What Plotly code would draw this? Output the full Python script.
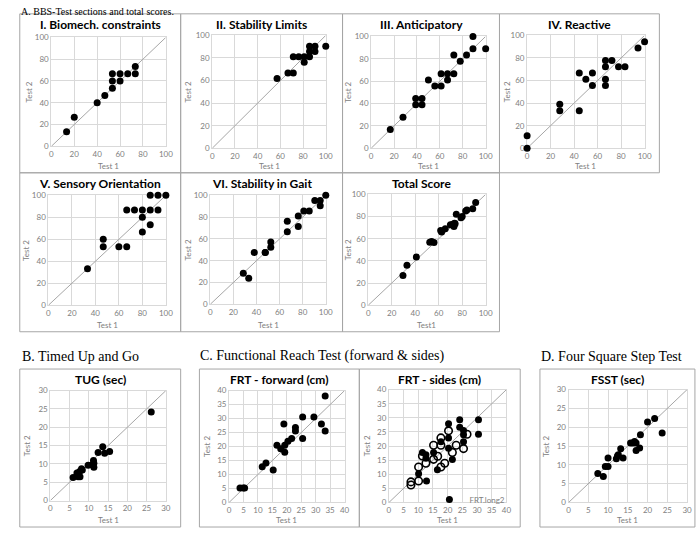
import plotly.graph_objects as go

W, H = 696, 533

# ---------------- data ----------------
bio_t1 = [13.3, 20, 40, 46.7, 53.3, 53.3, 53.3, 60, 60, 66.7, 73.3, 73.3]
bio_t2 = [13.3, 26.7, 40, 46.7, 53.3, 60, 66.7, 66.7, 60, 66.7, 73.3, 66.7]

stab_t1 = [57.1, 66.7, 71.4, 71.4, 76.2, 81, 81, 85.7, 85.7, 85.7, 90.5, 90.5, 100]
stab_t2 = [61.9, 66.7, 66.7, 81, 81, 81, 76.2, 81, 85.7, 90.5, 90.5, 85.7, 90.5]

ant_t1 = [16.7, 27.8, 38.9, 38.9, 44.4, 44.4, 50, 55.6, 61.1, 61.1, 66.7, 66.7, 72.2, 72.2, 77.8, 83.3, 88.9, 88.9, 100]
ant_t2 = [16.7, 27.8, 38.9, 44.4, 44.4, 38.9, 61.1, 55.6, 55.6, 66.7, 66.7, 61.1, 66.7, 83.3, 77.8, 83.3, 88.9, 100, 88.9]

rea_t1 = [0, 0, 27.8, 27.8, 44.4, 44.4, 50, 55.6, 55.6, 66.7, 66.7, 66.7, 66.7, 72.2, 77.8, 83.3, 94.4, 100]
rea_t2 = [0, 11.1, 38.9, 33.3, 33.3, 66.7, 61.1, 66.7, 55.6, 77.8, 72.2, 61.1, 55.6, 77.8, 72.2, 72.2, 88.9, 94.4]

sen_t1 = [33.3, 46.7, 46.7, 60, 66.7, 66.7, 73.3, 80, 80, 80, 86.7, 86.7, 86.7, 93.3, 93.3, 100]
sen_t2 = [33.3, 60, 53.3, 53.3, 53.3, 86.7, 86.7, 86.7, 80, 66.7, 86.7, 100, 73.3, 100, 86.7, 100]

gait_t1 = [28.6, 33.3, 38.1, 47.6, 47.6, 52.4, 52.4, 66.7, 66.7, 76.2, 76.2, 81, 85.7, 90.5, 95.2, 95.2, 100]
gait_t2 = [28.6, 23.8, 47.6, 47.6, 47.6, 52.4, 57.1, 66.7, 76.2, 71.4, 81, 85.7, 85.7, 95.2, 95.2, 90.5, 100]

tot_t1 = [29.6, 33, 41, 52.4, 54, 56, 61.7, 62.5, 65.6, 70, 72, 73, 73.5, 74, 75, 79, 80, 83, 84, 89, 91.5]
tot_t2 = [26.9, 36, 43.5, 56.8, 57.5, 56.5, 67.5, 66, 69, 72.5, 73, 71, 74, 73.5, 82, 79, 80, 85, 86, 87, 92.6]

tug_t1 = [5.9, 6.9, 7.2, 7.7, 7.6, 8.1, 8.3, 9.8, 10.9, 11.2, 11.3, 11.3, 12.4, 13.6, 14.1, 15.4, 26.2]
tug_t2 = [6.3, 7.5, 6.5, 6.5, 7.9, 8.7, 8.3, 9.6, 9.8, 10.9, 9.1, 10.2, 13.1, 14.7, 12.9, 13.4, 24.2]

frtf_t1 = [3.8, 4.9, 5.4, 11.5, 12.8, 15.3, 16.6, 17.9, 19, 19.3, 19.3, 20.4, 21.7, 23, 23, 25.5, 25.5, 29.4, 32, 33.3, 33.3]
frtf_t2 = [5.2, 5.2, 5.2, 12.8, 14.1, 11.6, 20.5, 19.2, 28.1, 20.5, 18, 21.9, 22.9, 26.8, 25.6, 30.6, 22.9, 30.6, 28.1, 38.1, 25.6]

frts_long2_t1 = [10.1, 11.4, 12.6, 12.6, 12.8, 15.2, 16.5, 17.7, 20.3, 20.3, 20.3, 21.6, 24.1, 24.1, 25.4, 25.4, 25.4, 30.5, 30.5]
frts_long2_t2 = [10.2, 17.7, 16.9, 15.7, 7.6, 17.7, 11.6, 21.5, 27.9, 22.9, 19.2, 15.2, 29.3, 26.7, 25.5, 24, 21.5, 29.3, 24.2]
frts_open_t1 = [7.5, 7.5, 10.1, 10.1, 11.4, 12.6, 15.2, 15.2, 16.6, 17.7, 17.7, 17.7, 19, 20.3, 21.6, 22.9, 25.4, 26.6]
frts_open_t2 = [7.3, 6.2, 12.6, 7.6, 16.5, 13.9, 20.3, 15.3, 16.4, 22.9, 20.3, 12.6, 13.9, 25.4, 17.7, 20.3, 19.1, 24.2]

fsst_t1 = [7.4, 8.8, 9.3, 10, 10, 12.1, 12.4, 12.6, 13.2, 13.8, 15.7, 16.3, 16.7, 17.1, 17.1, 18, 18.2, 20, 21.8, 23.7]
fsst_t2 = [7.7, 6.9, 9.6, 9.6, 11.8, 11.6, 12.4, 12.7, 14.3, 11.8, 15.8, 15.8, 16.2, 13.8, 15.8, 14.5, 18, 21.4, 22.3, 18.5]

# ---------------- layout helpers ----------------
def fx(p):
    return p / W

def fy(p):
    return 1 - p / H

GRID = "#d9d9d9"
BORDER = "#a6a6a6"
TICK = "#808080"
SANS = "Lato"

# title, series list, axis max, dtick, plot area px (x0,x1,y0,y1),
# panel box px (x0,x1,y0,y1), x-title, y-title x px, title y px, x-title y px
panels = [
    ("I. Biomech. constraints", [(bio_t1, bio_t2, "f", False)], 100, 20, (50, 166, 33, 144), (18, 181, 9, 171), "Test 1", 27, 20, 164),
    ("II. Stability Limits", [(stab_t1, stab_t2, "f", False)], 100, 20, (213, 328, 31, 146), (181, 345, 9, 171), "Test 1", 188, 20, 164),
    ("III. Anticipatory", [(ant_t1, ant_t2, "f", False)], 100, 20, (374, 490, 32, 146), (345, 504, 9, 171), "Test 1", 351, 20, 164),
    ("IV. Reactive", [(rea_t1, rea_t2, "f", False)], 100, 20, (532, 651, 31, 146), (504, 666, 9, 171), "Test 1", 511, 20, 164),
    ("V. Sensory Orientation", [(sen_t1, sen_t2, "f", False)], 100, 20, (47, 166, 194, 306), (18, 181, 171, 333), "Test 1", 25, 182, 326),
    ("VI. Stability in Gait", [(gait_t1, gait_t2, "f", False)], 100, 20, (211, 328, 194, 305), (181, 345, 171, 333), "Test 1", 188, 182, 326),
    ("Total Score", [(tot_t1, tot_t2, "f", False)], 100, 20, (371, 490, 193, 306), (345, 504, 171, 333), "Test1", 350, 182, 326),
    ("TUG (sec)", [(tug_t1, tug_t2, "f", False)], 30, 5, (49, 166, 393, 505), (18, 181, 371, 532), "Test 1", 25, 382, 525),
    ("FRT - forward (cm)", [(frtf_t1, frtf_t2, "f", False)], 40, 5, (230, 347, 393, 507), (200, 362, 371, 532), "Test 1", 207, 382, 525),
    ("FRT - sides (cm)", [(frts_long2_t1, frts_long2_t2, "f", True), (frts_open_t1, frts_open_t2, "o", False)], 40, 5, (392, 511, 392, 507), (362, 525, 371, 532), "Test 1", 370, 382, 525),
    ("FSST (sec)", [(fsst_t1, fsst_t2, "f", False)], 30, 5, (574, 694, 392, 507), (545, 702, 371, 532), "Test 1", 551, 382, 525),
]

fig = go.Figure()
layout = dict(
    width=W, height=H, margin=dict(l=0, r=0, t=0, b=0),
    paper_bgcolor="white", plot_bgcolor="white",
    showlegend=True,
    legend=dict(x=fx(433), y=fy(504), xanchor="left", yanchor="middle",
                bgcolor="rgba(0,0,0,0)", font=dict(family=SANS, size=8, color=TICK),
                itemwidth=30, tracegroupgap=0, borderwidth=0),
)
annotations = []
shapes = []

for i, (title, series, amax, dt, pa, box, xt, ytx, ty, xty) in enumerate(panels):
    n = "" if i == 0 else str(i + 1)
    ax = dict(range=[0, amax], dtick=dt, tick0=0, showgrid=True, gridcolor=GRID, gridwidth=1,
              showline=True, linecolor=GRID, linewidth=1, mirror=True, zeroline=False,
              layer="below traces",
              ticks="", tickfont=dict(family=SANS, size=8, color=TICK), fixedrange=True)
    layout["xaxis" + n] = dict(ax, domain=[fx(pa[0]), fx(pa[1])], anchor="y" + n)
    layout["yaxis" + n] = dict(ax, domain=[fy(pa[3]), fy(pa[2])], anchor="x" + n)
    fig.add_trace(go.Scatter(x=[0, amax], y=[0, amax], mode="lines",
                             line=dict(color="#a6a6a6", width=1), hoverinfo="skip",
                             showlegend=False, xaxis="x" + n, yaxis="y" + n))
    for t1, t2, kind, leg in series:
        if kind == "f":
            mk = dict(symbol="circle", size=7, color="black")
        else:
            mk = dict(symbol="circle-open", size=7.5, color="black", line=dict(width=1.6, color="black"))
        fig.add_trace(go.Scatter(x=t1, y=t2, mode="markers", marker=mk, cliponaxis=False,
                                 name="FRT.long2" if leg else "", showlegend=leg,
                                 xaxis="x" + n, yaxis="y" + n))
    shapes.append(dict(type="rect", xref="paper", yref="paper",
                       x0=fx(box[0]), x1=fx(box[1]), y0=fy(box[3]), y1=fy(box[2]),
                       line=dict(color=BORDER, width=1), layer="below"))
    annotations.append(dict(text=title, xref="paper", yref="paper", x=fx((box[0] + box[1]) / 2),
                            y=fy(ty), xanchor="center", yanchor="middle", showarrow=False,
                            font=dict(family=SANS, size=12, color="black", weight="bold")))
    annotations.append(dict(text=xt, xref="paper", yref="paper", x=fx((pa[0] + pa[1]) / 2),
                            y=fy(xty), xanchor="center", yanchor="middle", showarrow=False,
                            font=dict(family=SANS, size=8, color=TICK)))
    annotations.append(dict(text="Test 2", xref="paper", yref="paper", x=fx(ytx),
                            y=fy((pa[2] + pa[3]) / 2), xanchor="center", yanchor="middle",
                            textangle=-90, showarrow=False,
                            font=dict(family=SANS, size=8, color=TICK)))

SERIF = "Liberation Serif"
annotations.append(dict(text="A. BBS-Test sections and total scores.", xref="paper", yref="paper",
                        x=fx(18), y=1, xanchor="left", yanchor="top", showarrow=False,
                        borderpad=0, font=dict(family=SERIF, size=10, color="black")))
sections = [
    ("B. Timed Up and Go", 18, 358),
    ("C. Functional Reach Test (forward & sides)", 199, 358),
    ("D. Four Square Step Test", 544, 358),
]
for txt, x, y in sections:
    annotations.append(dict(text=txt, xref="paper", yref="paper", x=fx(x), y=fy(y),
                            xanchor="left", yanchor="middle", showarrow=False,
                            font=dict(family=SERIF, size=14, color="black")))

layout["annotations"] = annotations
layout["shapes"] = shapes
fig.update_layout(**layout)
fig.write_html("out.html")
